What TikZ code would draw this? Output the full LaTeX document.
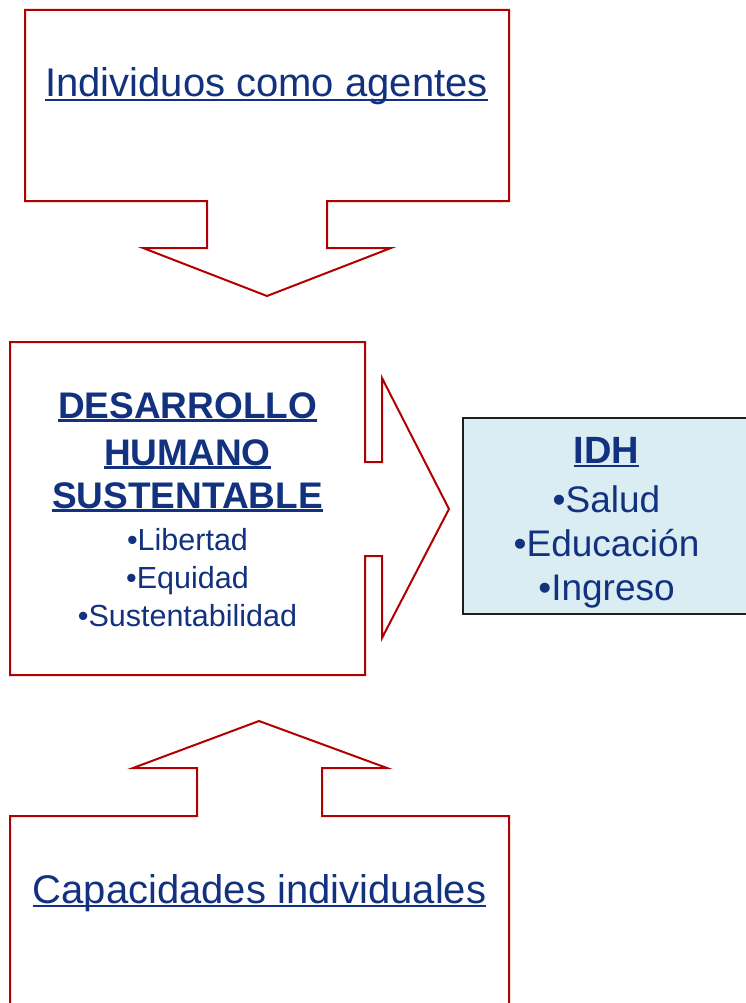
\documentclass[tikz,border=0pt]{standalone}
\usepackage{fontspec}
\setmainfont{Liberation Sans}
\definecolor{boxred}{HTML}{B00000}
\definecolor{txtblue}{HTML}{12317F}
\definecolor{idhfill}{HTML}{DAEDF3}
\definecolor{idhline}{HTML}{1E1E1E}
\newcommand\ulx[1]{\setbox0=\hbox{#1}\rlap{\rule[-0.11em]{\wd0}{0.07em}}\box0}
\begin{document}
\begin{tikzpicture}[x=1pt,y=-1pt,
  callout/.style={draw=boxred,line width=2pt,line join=miter},
  lbl/.style={inner sep=0pt,anchor=base,text=txtblue},
  big/.style={font=\fontsize{40}{40}\selectfont},
  head/.style={font=\bfseries\fontsize{37}{37}\selectfont},
  small/.style={font=\fontsize{30.5}{30.5}\selectfont},
  idhhead/.style={font=\bfseries\fontsize{38}{38}\selectfont},
  idhitem/.style={font=\fontsize{37}{37}\selectfont}]
\useasboundingbox (0,0) rectangle (746,1003);
\clip (0,0) rectangle (746,1003);
\fill[white] (0,0) rectangle (746,1003);
% top callout (down arrow)
\draw[callout] (25,10) -- (509,10) -- (509,201) -- (327,201) -- (327,248) -- (391,248)
  -- (267,296) -- (143,248) -- (207,248) -- (207,201) -- (25,201) -- cycle;
\node[lbl,big] (agentes) at (266.5,97) {\ulx{Individuos como agentes}};
% middle callout (right arrow)
\draw[callout] (10,342) -- (365,342) -- (365,462) -- (382,462) -- (382,378) -- (449,509)
  -- (382,638) -- (382,556) -- (365,556) -- (365,675) -- (10,675) -- cycle;
\node[lbl,head] (des) at (187.5,418) {\ulx{DESARROLLO}};
\node[lbl,head] (hum) at (187.5,465) {\ulx{HUMANO}};
\node[lbl,head] (sus) at (187.5,508) {\ulx{SUSTENTABLE}};
\node[lbl,small] (lib) at (187.5,550) {•Libertad};
\node[lbl,small] (equ) at (187.5,588) {•Equidad};
\node[lbl,small] (sost) at (187.5,626) {•Sustentabilidad};
% IDH box
\path[fill=idhfill,draw=idhline,line width=2pt] (463,418) rectangle (762,614);
\node[lbl,idhhead] (idh) at (606.5,463) {\ulx{IDH}};
\node[lbl,idhitem] (sal) at (606.5,512) {•Salud};
\node[lbl,idhitem] (edu) at (606.5,556) {•Educación};
\node[lbl,idhitem] (ing) at (606.5,600) {•Ingreso};
% bottom callout (up arrow)
\draw[callout] (10,1020) -- (10,816) -- (197,816) -- (197,768) -- (133,768) -- (259,721)
  -- (387,768) -- (322,768) -- (322,816) -- (509,816) -- (509,1020);
\node[lbl,big] (cap) at (259.5,903) {\ulx{Capacidades individuales}};
\end{tikzpicture}
\end{document}
